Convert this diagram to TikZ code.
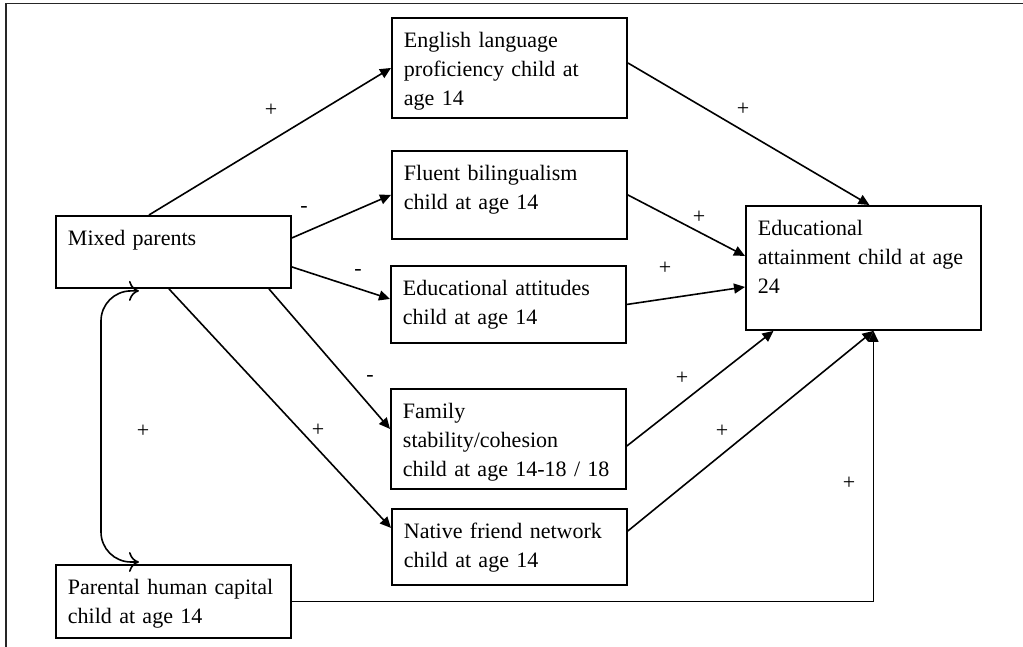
\documentclass[tikz,border=0pt]{standalone}
\usepackage{fontspec}
\setmainfont{Liberation Serif}
\usetikzlibrary{arrows.meta}
\tikzset{
  box/.style={draw, line width=0.95pt, text width=105.5pt, align=left, inner xsep=6pt, inner ysep=7pt, text height=8pt, anchor=north west, font=\fontsize{11}{14.5}\selectfont},
  arr/.style={-{Triangle[length=5.5pt,width=5pt]}, line width=0.8pt},
  dbl/.style={{To[length=5pt,width=10pt]}-{To[length=5pt,width=10pt]}, line width=0.8pt, rounded corners=15pt},
  sign/.style={font=\fontsize{11}{13}\selectfont, inner sep=0pt}
}

\begin{document}
\begin{tikzpicture}[x=0.5pt, y=-0.5pt]
  \useasboundingbox (0,0) rectangle (1023,647);
  \draw [line width=0.9pt, black!85] (6,647) -- (6,3.5) -- (1023,3.5);

  \node [box, text depth=14pt] (mixed) at (55,215) {Mixed parents};
  \node [box, text depth=14.5pt] (parental) at (55,564) {Parental human capital\\child at age 14};

  \node [box, text depth=28pt] (english) at (391,17) {English language\\proficiency child at\\age 14};
  \node [box, text depth=22pt] (fluent) at (391,150) {Fluent bilingualism\\child at age 14};
  \node [box, text depth=16.5pt] (attitudes) at (390,265) {Educational attitudes\\child at age 14};
  \node [box, text depth=28pt] (family) at (390,388) {Family\\stability/cohesion\\child at age 14-18 / 18};
  \node [box, text depth=16pt] (native) at (391,508) {Native friend network\\child at age 14};

  \node [box, text depth=40pt] (attain) at (745,205) {Educational\\attainment child at age\\24};

  \coordinate (bend) at (101,425);

  \draw [arr] ([xshift=-12.25pt]mixed.north) -- (english.west);
  \draw [arr] ([yshift=7pt]mixed.east) -- (fluent.west);
  \draw [arr] ([yshift=-7.5pt]mixed.east) -- ([yshift=2.75pt]attitudes.west);
  \draw [arr] ([xshift=47.75pt]mixed.south) -- ([yshift=5pt]family.west);
  \draw [arr] ([xshift=-2.25pt]mixed.south) -- ([yshift=9.5pt]native.west);
  \draw [dbl] ([xshift=-17.25pt,yshift=-1pt]mixed.south) -| (bend) |- ([xshift=-17.25pt,yshift=1pt]parental.north);

  \draw [arr] ([yshift=2.5pt]english.east) -- ([xshift=3pt]attain.north);
  \draw [arr] (fluent.east) -- ([yshift=6pt]attain.west);
  \draw [arr] (attitudes.east) -- ([yshift=-9.5pt]attain.west);
  \draw [arr] ([yshift=-3.5pt]family.east) -- ([xshift=-45pt]attain.south);
  \draw [arr] ([yshift=8pt]native.east) -- ([xshift=5pt]attain.south);
  \draw [arr] (parental.east) -| ([xshift=5pt]attain.south);

  \foreach \x/\y/\s [count=\i] in {271/110/+, 304/209/-, 358/272/-, 370/378/-, 318/430/+, 143/431/+, 743/109/+, 699/217/+, 665/268/+, 682/378/+, 722/431/+, 849/483/+}
    \node [sign] (s\i) at (\x,\y) {\s};
\end{tikzpicture}
\end{document}
